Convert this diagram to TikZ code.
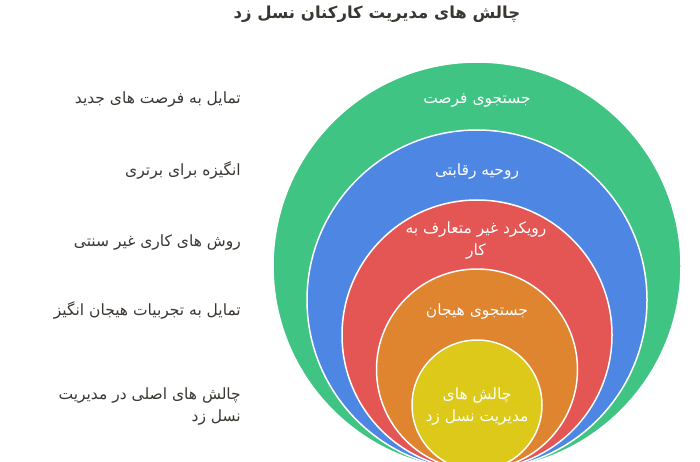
\documentclass[tikz,border=0pt]{standalone}
\usepackage{fontspec}
\setmainfont{Liberation Sans}
\newfontfamily\farsi[Script=Arabic]{DejaVu Sans}
\TeXXeTstate=1
\usepackage{xcolor}
\usetikzlibrary{positioning,calc}
\definecolor{ringgreen}{RGB}{64,196,131}
\definecolor{ringblue}{RGB}{78,134,228}
\definecolor{ringred}{RGB}{227,86,84}
\definecolor{ringorange}{RGB}{223,132,47}
\definecolor{ringyellow}{RGB}{220,201,25}
\definecolor{labelgray}{RGB}{58,54,50}

\begin{document}
\begin{tikzpicture}[x=1pt,y=-1pt,
    ring/.style={circle,draw=white,line width=1.5pt,inner sep=0pt},
    ringlabel/.style={text=white,font=\farsi\fontsize{15.5}{22}\selectfont,align=center},
    sidelabel/.style={text=labelgray,font=\farsi\fontsize{15.5}{22}\selectfont,anchor=east,align=right,inner sep=0pt}]
  \useasboundingbox (0,0) rectangle (700,462);
  \foreach \n/\c/\d/\y in {green/ringgreen/408pt/266,blue/ringblue/340pt/300,red/ringred/270pt/335,orange/ringorange/201pt/369.5,yellow/ringyellow/130pt/405}
    \node[ring,fill=\c,minimum size=\d] (\n) at (477,\y) {};
  \node[text=labelgray,font=\farsi\bfseries\fontsize{16.5}{20}\selectfont] (title) at (377,14) {\beginR چالش های مدیریت کارکنان نسل زد\endR};
  \node[ringlabel] (greenlabel) at (477,100) {\beginR جستجوی فرصت\endR};
  \node[ringlabel] (bluelabel) at (477,172) {\beginR روحیه رقابتی\endR};
  \node[ringlabel] (redlabel) at (476,241) {\beginR رویکرد غیر متعارف به\endR\\\beginR کار\endR};
  \node[ringlabel] (orangelabel) at (477,312) {\beginR جستجوی هیجان\endR};
  \node[ringlabel] (yellowlabel) at (477,406) {\beginR چالش های\endR\\\beginR مدیریت نسل زد\endR};
  \node[sidelabel] (greenside) at (241,100) {\beginR تمایل به فرصت های جدید\endR};
  \node[sidelabel] (blueside) at (241,170) {\beginR انگیزه برای برتری\endR};
  \node[sidelabel] (redside) at (241,243) {\beginR روش های کاری غیر سنتی\endR};
  \node[sidelabel] (orangeside) at (241,310) {\beginR تمایل به تجربیات هیجان انگیز\endR};
  \node[sidelabel] (yellowside) at (241,406) {\beginR چالش های اصلی در مدیریت\endR\\\beginR نسل زد\endR};
\end{tikzpicture}
\end{document}
